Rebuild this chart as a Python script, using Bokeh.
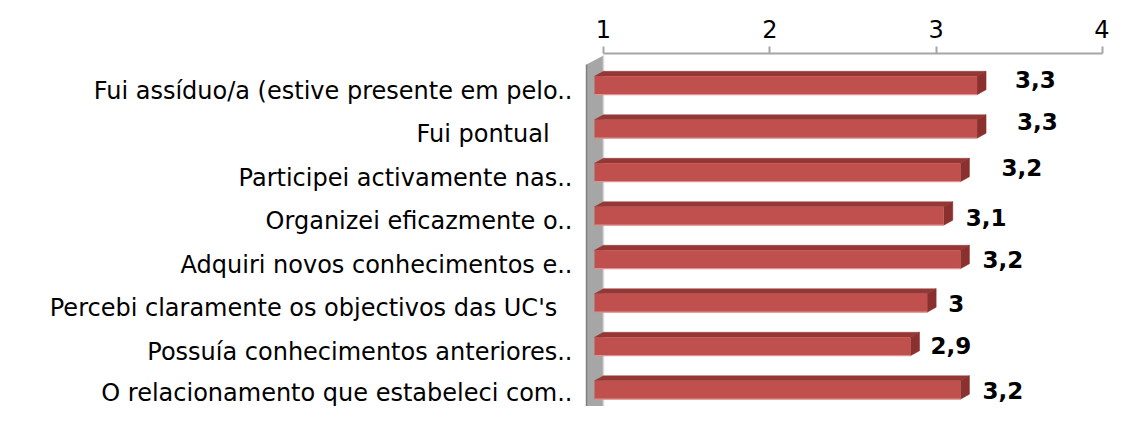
import numpy as np
from bokeh.plotting import figure
from bokeh.models import Range1d, LinearAxis, FixedTicker, ColumnDataSource
from bokeh.embed import file_html
from bokeh.resources import INLINE
from bokeh.core.properties import value

# ---------------- data ----------------
categories = [
    "Fui assíduo/a (estive presente em pelo..",
    "Fui pontual\u00a0\u00a0\u00a0",
    "Participei activamente nas..",
    "Organizei eficazmente o..",
    "Adquiri novos conhecimentos e..",
    "Percebi claramente os objectivos das UC's\u00a0\u00a0",
    "Possuía conhecimentos anteriores..",
    "O relacionamento que estabeleci com..",
]
scores = [3.3, 3.3, 3.2, 3.1, 3.2, 3.0, 2.9, 3.2]
x_ticks = [1, 2, 3, 4]

# ---------------- style ----------------
FONT = "DejaVu Sans"
FRONT = "#C0504D"
TOP = "#953735"
SIDE = "#8A302E"
EDGE = "#DC9391"
WALL = "#A6A6A6"
# screen nudges of the value labels (px), as placed in the original
LABEL_NUDGE_X = [29, 31, 32, 13, 13, 12, 11, 13]
LABEL_NUDGE_Y = [-6, -8, -5, 1, 0, 0, -1, 0]

W, H = 1109, 406
LEFT, TOPB = 584, 53
PX_X = 166.33          # px per unit on the value axis
PX_Y = 43.5            # px per category
X0 = 1 - 19 / PX_X
X1 = X0 + (W - LEFT) / PX_X
Y_TOP = -32 / PX_Y
Y_BOT = Y_TOP + (H - TOPB) / PX_Y

p = figure(
    width=W, height=H, output_backend="svg", toolbar_location=None,
    x_range=Range1d(X0, X1), y_range=Range1d(Y_BOT, Y_TOP),
    x_axis_location="above", y_axis_location=None,
    min_border_left=LEFT, min_border_right=0, min_border_top=TOPB, min_border_bottom=0,
)
p.outline_line_color = None
p.xgrid.visible = False
p.ygrid.visible = False

# depth of the 3D effect in data units
DX = 9 / PX_X
DY = 5 / PX_Y
HH = 9.2 / PX_Y
n = len(categories)
ypos = np.arange(n, dtype=float)
vals = np.array(scores, dtype=float)

# side wall
wall_l = 1 - 17 / PX_X
wall_top_l = Y_TOP + 11 / PX_Y
wall_top_r = Y_TOP + 2 / PX_Y
p.patch([wall_l, 1.0, 1.0, wall_l], [wall_top_l, wall_top_r, Y_BOT + 1, Y_BOT + 1],
        fill_color=WALL, line_color=None)
p.segment(x0=[wall_l], y0=[wall_top_l], x1=[wall_l], y1=[Y_BOT + 1], line_color="#7F7F7F", line_width=1.5)
p.segment(x0=[1.0], y0=[wall_top_r], x1=[1.0], y1=[Y_BOT + 1], line_color="#D9D9D9", line_width=1.5)

# top faces
top_xs = [[1 - DX, 1, v, v - DX] for v in vals]
top_ys = [[y - HH, y - HH - DY, y - HH - DY, y - HH] for y in ypos]
p.patches(top_xs, top_ys, fill_color=TOP, line_color=TOP, line_width=0.5)
# right side faces
side_xs = [[v - DX, v, v, v - DX] for v in vals]
side_ys = [[y - HH, y - HH - DY, y + HH - DY, y + HH] for y in ypos]
p.patches(side_xs, side_ys, fill_color=SIDE, line_color=SIDE, line_width=0.5)
# front faces
p.quad(left=1 - DX, right=vals - DX, top=ypos - HH, bottom=ypos + HH,
       fill_color=FRONT, line_color=None)
p.segment(x0=np.full(n, 1 - DX), y0=ypos + HH, x1=vals - DX, y1=ypos + HH,
          line_color=EDGE, line_width=1.2)

# value labels
labels = [("%.1f" % v).replace(".", ",").replace(",0", "") for v in vals]
src = ColumnDataSource(dict(x=vals, y=ypos, t=labels, dx=LABEL_NUDGE_X, dy=LABEL_NUDGE_Y))
p.text(x="x", y="y", text="t", x_offset="dx", y_offset="dy", source=src,
       text_font=value(FONT), text_font_style="bold", text_font_size="23px",
       text_color="black", text_align="left", text_baseline="middle")

# top value axis
xa = p.xaxis[0]
xa.ticker = FixedTicker(ticks=x_ticks)
xa.bounds = (1, 4)
xa.axis_line_color = "#A6A6A6"
xa.axis_line_width = 2
xa.major_tick_line_color = "#A6A6A6"
xa.major_tick_line_width = 2
xa.major_tick_out = 7
xa.major_tick_in = 0
xa.minor_tick_line_color = None
xa.major_label_standoff = 9
xa.major_label_text_font = FONT
xa.major_label_text_font_size = "24px"
xa.major_label_text_color = "black"

# category axis (labels sit a few px below the bar centres, as in the original)
shift = 5 / PX_Y
p.extra_y_ranges = {"cats": Range1d(Y_BOT - shift, Y_TOP - shift)}
ya = LinearAxis(y_range_name="cats")
ya.ticker = FixedTicker(ticks=list(range(n)))
ya.major_label_overrides = {i: c for i, c in enumerate(categories)}
ya.axis_line_color = None
ya.major_tick_line_color = None
ya.minor_tick_line_color = None
ya.major_label_standoff = 6
ya.major_label_text_font = FONT
ya.major_label_text_font_size = "24px"
ya.major_label_text_color = "black"
p.add_layout(ya, "left")

open("out.html", "w").write(file_html(p, INLINE))
